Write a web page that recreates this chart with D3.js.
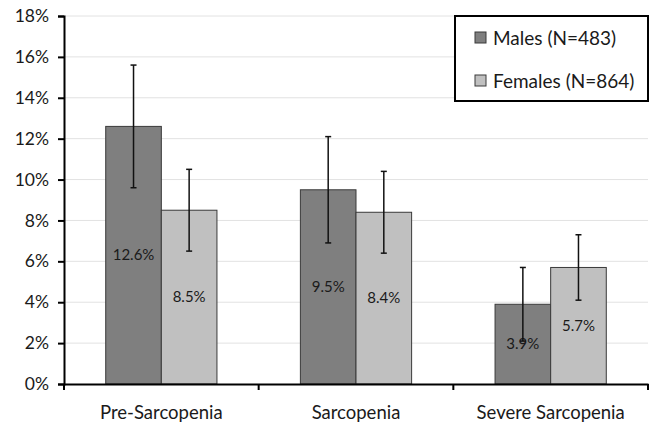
<!DOCTYPE html>
<html>
<head>
<meta charset="utf-8">
<script src="https://cdn.jsdelivr.net/npm/d3@7"></script>
<style>
  body { margin: 0; background: #fff; }
  text { font-family: Lato, "Open Sans", sans-serif; fill: #1a1a1a; }
</style>
</head>
<body>
<div id="chart"></div>
<script>
// data
const categories = ['Pre-Sarcopenia', 'Sarcopenia', 'Severe Sarcopenia'];
const seriesNames = ['Males (N=483)', 'Females (N=864)'];
const males = [12.6, 9.5, 3.9];
const females = [8.5, 8.4, 5.7];
const malesLow = [9.6, 6.9, 2.1];
const malesHigh = [15.6, 12.1, 5.7];
const femalesLow = [6.5, 6.4, 4.1];
const femalesHigh = [10.5, 10.4, 7.3];
const yTicks = [0, 2, 4, 6, 8, 10, 12, 14, 16, 18];

const width = 651, height = 440;
const margin = { top: 16, right: 3, bottom: 56, left: 64 };
const colors = ['#7f7f7f', '#c0c0c0'];

const svg = d3.select('#chart').append('svg')
  .attr('width', width)
  .attr('height', height);

const x = d3.scaleBand()
  .domain(categories)
  .range([margin.left, width - margin.right])
  .padding(0);

const y = d3.scaleLinear()
  .domain([0, 18])
  .range([height - margin.bottom, margin.top]);

const barW = x.bandwidth() * 0.2857;

// gridlines
svg.append('g')
  .selectAll('line')
  .data(yTicks.filter(d => d > 0))
  .enter().append('line')
  .attr('x1', margin.left)
  .attr('x2', width - margin.right)
  .attr('y1', d => y(d))
  .attr('y2', d => y(d))
  .attr('stroke', '#e2e2e2')
  .attr('stroke-width', 1);

const rows = categories.map((c, i) => [
  { cat: c, s: 0, v: males[i], lo: malesLow[i], hi: malesHigh[i] },
  { cat: c, s: 1, v: females[i], lo: femalesLow[i], hi: femalesHigh[i] }
]).flat();

const bx = d => x(d.cat) + x.bandwidth() / 2 + (d.s - 1) * barW;

// bars
svg.append('g')
  .selectAll('rect')
  .data(rows)
  .enter().append('rect')
  .attr('x', bx)
  .attr('y', d => y(d.v))
  .attr('width', barW)
  .attr('height', d => y(0) - y(d.v))
  .attr('fill', d => colors[d.s])
  .attr('stroke', '#3a3a3a')
  .attr('stroke-width', 1);

// value labels
svg.append('g')
  .selectAll('text')
  .data(rows)
  .enter().append('text')
  .attr('x', d => bx(d) + barW / 2)
  .attr('y', d => (y(d.v) + y(0)) / 2)
  .attr('dy', '0.35em')
  .attr('text-anchor', 'middle')
  .style('font-size', '15px')
  .text(d => d.v.toFixed(1) + '%');

// error bars
const err = svg.append('g').attr('stroke', '#111').attr('stroke-width', 1.5);
rows.forEach(d => {
  const cx = bx(d) + barW / 2;
  err.append('line').attr('x1', cx).attr('x2', cx).attr('y1', y(d.lo)).attr('y2', y(d.hi));
  err.append('line').attr('x1', cx - 3).attr('x2', cx + 3).attr('y1', y(d.lo)).attr('y2', y(d.lo));
  err.append('line').attr('x1', cx - 3).attr('x2', cx + 3).attr('y1', y(d.hi)).attr('y2', y(d.hi));
});

// y axis
const yAxis = svg.append('g')
  .attr('transform', `translate(${margin.left},0)`)
  .call(d3.axisLeft(y).tickValues(yTicks).tickFormat(d => d + '%').tickSize(6).tickPadding(9));
yAxis.select('.domain').attr('stroke', '#000').attr('stroke-width', 2);
yAxis.selectAll('.tick line').attr('stroke', '#000').attr('stroke-width', 2);
yAxis.selectAll('.tick text').style('font-size', '17.5px').attr('fill', '#1a1a1a');

// x axis
const xAxis = svg.append('g')
  .attr('transform', `translate(0,${y(0)})`)
  .call(d3.axisBottom(x).tickSize(0).tickPadding(22));
xAxis.select('.domain').attr('stroke', '#000').attr('stroke-width', 2);
xAxis.selectAll('.tick text').style('font-size', '18.5px').attr('fill', '#1a1a1a');
svg.append('g')
  .selectAll('line')
  .data(categories.concat(['end']))
  .enter().append('line')
  .attr('x1', (d, i) => i < categories.length ? x(d) : x.range()[1])
  .attr('x2', (d, i) => i < categories.length ? x(d) : x.range()[1])
  .attr('y1', y(0))
  .attr('y2', y(0) + 6)
  .attr('stroke', '#000')
  .attr('stroke-width', 2);

// legend
const legend = svg.append('g').attr('transform', 'translate(455,16)');
legend.append('rect')
  .attr('width', 193)
  .attr('height', 85)
  .attr('fill', '#fff')
  .attr('stroke', '#000')
  .attr('stroke-width', 2);
seriesNames.forEach((name, i) => {
  const g = legend.append('g').attr('transform', `translate(20,${16 + i * 43})`);
  g.append('rect')
    .attr('width', 11)
    .attr('height', 11)
    .attr('fill', colors[i])
    .attr('stroke', '#3a3a3a');
  g.append('text')
    .attr('x', 18)
    .attr('y', 6)
    .attr('dy', '0.35em')
    .style('font-size', '19px')
    .text(name);
});
</script>
</body>
</html>
